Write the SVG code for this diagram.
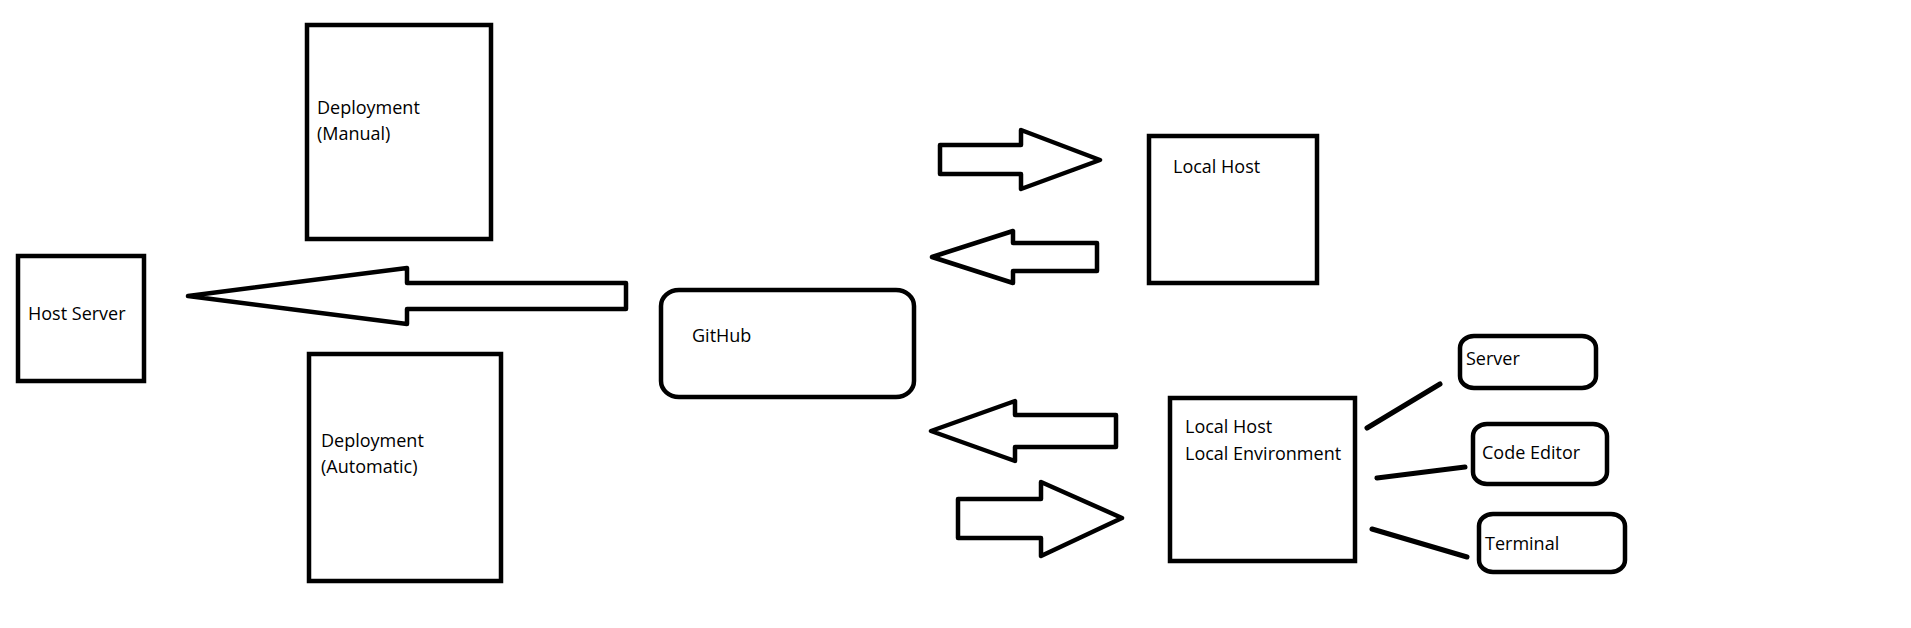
<svg xmlns="http://www.w3.org/2000/svg" width="1911" height="628" viewBox="0 0 1911 628">
<style>
.box{fill:#fff;stroke:#000;stroke-width:4.5}
.arrow{fill:#fff;stroke:#000;stroke-width:4.5;stroke-linejoin:round}
.line{stroke:#000;stroke-width:5;stroke-linecap:round}
text{font-family:"Open Sans","Noto Sans","Liberation Sans",sans-serif;font-size:18px;fill:#000}
</style>
<rect width="1911" height="628" fill="#fff"/>
<g id="deployment-manual">
<rect class="box" x="307" y="25" width="184" height="214"/>
<text x="317" y="114">Deployment</text>
<text x="317" y="140">(Manual)</text>
</g>
<g id="host-server">
<rect class="box" x="18" y="256" width="126" height="125"/>
<text x="28" y="320">Host Server</text>
</g>
<g id="deployment-automatic">
<rect class="box" x="309" y="354" width="192" height="227"/>
<text x="321" y="447">Deployment</text>
<text x="321" y="473">(Automatic)</text>
</g>
<g id="github">
<rect class="box" x="661" y="290" width="253" height="107" rx="18" ry="16"/>
<text x="692" y="342">GitHub</text>
</g>
<g id="local-host">
<rect class="box" x="1149" y="136" width="168" height="147"/>
<text x="1173" y="173">Local Host</text>
</g>
<g id="local-environment">
<rect class="box" x="1170" y="398" width="185" height="163"/>
<text x="1185" y="433">Local Host</text>
<text x="1185" y="460">Local Environment</text>
</g>
<g id="server">
<rect class="box" x="1460" y="336" width="136" height="52" rx="14" ry="12"/>
<text x="1466" y="365">Server</text>
</g>
<g id="code-editor">
<rect class="box" x="1473" y="424" width="134" height="60" rx="14" ry="12"/>
<text x="1482" y="459">Code Editor</text>
</g>
<g id="terminal">
<rect class="box" x="1479" y="514" width="146" height="58" rx="14" ry="12"/>
<text x="1485" y="550">Terminal</text>
</g>
<g id="connectors">
<polygon class="arrow" points="188,296 407,268 407,283 626,283 626,309 407,309 407,324"/>
<polygon class="arrow" points="940,145 1021,145 1021,130 1100,160 1021,189 1021,174 940,174"/>
<polygon class="arrow" points="932,257 1013,231 1013,243 1097,243 1097,271 1013,271 1013,283"/>
<polygon class="arrow" points="931,431 1015,401 1015,415 1116,415 1116,447 1015,447 1015,461"/>
<polygon class="arrow" points="958,499 1041,499 1041,482 1122,518 1041,556 1041,538 958,538"/>
<line class="line" x1="1367" y1="428" x2="1440" y2="384"/>
<line class="line" x1="1377" y1="478" x2="1465" y2="467"/>
<line class="line" x1="1372" y1="529" x2="1467" y2="557"/>
</g>
</svg>
